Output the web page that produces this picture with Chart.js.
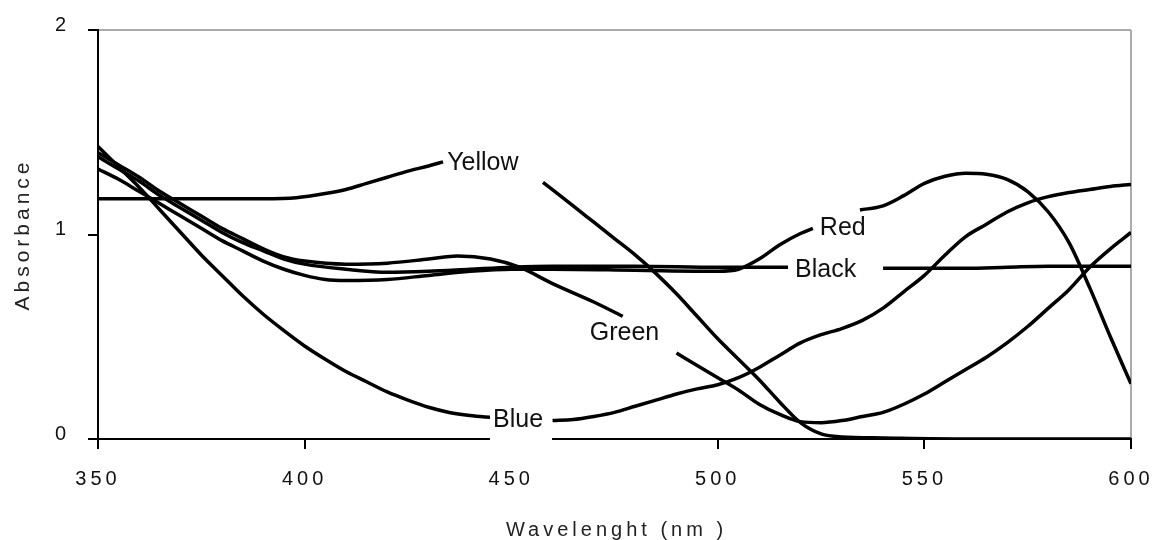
<!DOCTYPE html>
<html>
<head>
<meta charset="utf-8">
<script src="https://cdn.jsdelivr.net/npm/chart.js@4.4.1/dist/chart.umd.min.js"></script>
<style>
  html, body { margin: 0; padding: 0; background: #fff; }
  #wrap { width: 1152px; height: 540px; }
</style>
</head>
<body>
<div id="wrap"><canvas id="absChart" width="1152" height="540"></canvas></div>
<script>
// wavelength (nm) / absorbance per dye, null = gap where the label sits
const yellowNm  = [350, 360, 370, 380, 390, 398, 405, 410, 415, 420, 425, 430, 433.5, 445, 457.7, 465, 470, 475, 480, 485, 490, 495, 500, 505, 510, 515, 520, 525, 530, 540, 560, 580, 600];
const yellowAbs = [1.175, 1.175, 1.175, 1.175, 1.175, 1.18, 1.20, 1.22, 1.25, 1.28, 1.31, 1.335, 1.355, null, 1.255, 1.14, 1.06, 0.98, 0.90, 0.81, 0.71, 0.60, 0.49, 0.39, 0.29, 0.18, 0.08, 0.025, 0.01, 0.005, 0, 0, 0];

const greenNm  = [350, 355, 360, 365, 370, 375, 380, 385, 390, 395, 400, 410, 420, 430, 437, 445, 452, 460, 470, 477, 483, 490, 495, 500, 505, 510, 515, 520, 525, 530, 535, 540, 545, 550, 555, 560, 565, 570, 575, 580, 585, 590, 595, 600];
const greenAbs = [1.40, 1.34, 1.28, 1.21, 1.15, 1.09, 1.03, 0.98, 0.93, 0.89, 0.87, 0.855, 0.86, 0.88, 0.895, 0.88, 0.84, 0.76, 0.67, 0.60, null, 0.42, 0.36, 0.30, 0.24, 0.17, 0.12, 0.085, 0.08, 0.09, 0.11, 0.13, 0.17, 0.22, 0.28, 0.34, 0.40, 0.47, 0.55, 0.64, 0.73, 0.84, 0.93, 1.01];

const blueNm  = [350, 355, 360, 365, 370, 375, 380, 385, 390, 395, 400, 405, 410, 415, 420, 425, 430, 435, 440, 445.5, 452, 460, 465, 470, 475, 480, 485, 490, 495, 500, 505, 510, 515, 520, 525, 530, 535, 540, 545, 550, 555, 560, 565, 570, 575, 580, 585, 590, 595, 600];
const blueAbs = [1.43, 1.33, 1.23, 1.12, 1.01, 0.90, 0.80, 0.70, 0.61, 0.53, 0.455, 0.39, 0.33, 0.28, 0.23, 0.19, 0.155, 0.13, 0.115, 0.105, null, 0.09, 0.095, 0.11, 0.13, 0.16, 0.19, 0.22, 0.245, 0.265, 0.30, 0.35, 0.41, 0.47, 0.51, 0.54, 0.58, 0.64, 0.72, 0.80, 0.90, 0.99, 1.05, 1.11, 1.155, 1.185, 1.205, 1.22, 1.235, 1.245];

const redNm  = [350, 355, 360, 365, 370, 375, 380, 385, 390, 395, 400, 405, 410, 420, 430, 440, 450, 460, 480, 500, 505, 510, 515, 520, 523, 529, 534.4, 540, 545, 550, 555, 560, 565, 570, 575, 580, 585, 590, 595, 600];
const redAbs = [1.32, 1.27, 1.21, 1.15, 1.09, 1.03, 0.97, 0.92, 0.87, 0.83, 0.80, 0.78, 0.775, 0.78, 0.80, 0.82, 0.83, 0.83, 0.825, 0.82, 0.83, 0.88, 0.95, 1.005, 1.03, null, 1.12, 1.14, 1.19, 1.25, 1.285, 1.30, 1.295, 1.27, 1.21, 1.11, 0.96, 0.74, 0.50, 0.27];

const blackNm  = [350, 355, 360, 365, 370, 375, 380, 385, 390, 395, 400, 410, 420, 430, 440, 450, 460, 480, 500, 517, 528, 540, 560, 570, 580, 600];
const blackAbs = [1.38, 1.32, 1.26, 1.19, 1.13, 1.07, 1.01, 0.96, 0.92, 0.88, 0.855, 0.83, 0.815, 0.82, 0.83, 0.84, 0.845, 0.845, 0.84, 0.84, null, 0.835, 0.835, 0.84, 0.845, 0.845];

const seriesNames = ['Yellow', 'Green', 'Blue', 'Red', 'Black'];
const seriesNm  = [yellowNm, greenNm, blueNm, redNm, blackNm];
const seriesAbs = [yellowAbs, greenAbs, blueAbs, redAbs, blackAbs];

// where each name is written on the plot (left edge, middle)
const labelNm  = [434.5, 469, 445.6, 524.7, 518.7];
const labelAbs = [1.35, 0.52, 0.093, 1.03, 0.826];
// the Blue label box runs down over the x axis in the original
const labelMaskBottom = [null, null, -0.055, null, null];

const xTicks = [350, 400, 450, 500, 550, 600];
const yTicks = [0, 1, 2];
const xTitle = 'Wavelenght (nm )';
const yTitle = 'Absorbance';

const FONT = '"Liberation Sans", Arial, sans-serif';

const datasets = seriesNames.map((name, i) => ({
    label: name,
    data: seriesNm[i].map((x, j) => ({ x: x, y: seriesAbs[i][j] })),
    borderColor: '#000',
    borderWidth: 3.5,
    pointRadius: 0,
    fill: false,
    spanGaps: false,
    cubicInterpolationMode: 'monotone'
}));

const textPlugin = {
    id: 'textPlugin',
    beforeDraw(chart) {
        chart.ctx.letterSpacing = '4px';
    },
    beforeDatasetsDraw(chart) {
        chart.ctx.letterSpacing = '0px';
    },
    afterDraw(chart) {
        const ctx = chart.ctx;
        const xs = chart.scales.x, ys = chart.scales.y;
        const area = chart.chartArea;
        ctx.save();
        ctx.font = '25px ' + FONT;
        ctx.textBaseline = 'middle';
        ctx.textAlign = 'left';
        seriesNames.forEach((name, i) => {
            const px = xs.getPixelForValue(labelNm[i]);
            const py = ys.getPixelForValue(labelAbs[i]);
            const w = ctx.measureText(name).width;
            if (labelMaskBottom[i] !== null) {
                const bottom = ys.getPixelForValue(labelMaskBottom[i]);
                ctx.fillStyle = '#fff';
                ctx.fillRect(px - 3, py - 14, w + 12, bottom - (py - 14));
            }
            ctx.fillStyle = '#111';
            ctx.fillText(name, px, py);
        });

        // axis titles
        ctx.letterSpacing = '4px';
        ctx.font = '20px ' + FONT;
        ctx.fillStyle = '#222';
        ctx.textAlign = 'center';
        ctx.textBaseline = 'alphabetic';
        ctx.fillText(xTitle, (area.left + area.right) / 2 + 2, 536);
        ctx.font = '21px ' + FONT;
        ctx.translate(29, (area.top + area.bottom) / 2);
        ctx.rotate(-Math.PI / 2);
        ctx.fillText(yTitle, 0, 0);
        ctx.restore();
    }
};

const ctx = document.getElementById('absChart').getContext('2d');
const absChart = new Chart(ctx, {
    type: 'line',
    data: { datasets: datasets },
    plugins: [textPlugin],
    options: {
        responsive: false,
        animation: false,
        devicePixelRatio: 1,
        layout: { padding: { top: 30, right: 21, left: 0, bottom: 0 } },
        plugins: {
            legend: { display: false },
            tooltip: { enabled: false }
        },
        scales: {
            x: {
                type: 'linear',
                min: 350,
                max: 600,
                afterBuildTicks: s => { s.ticks = xTicks.map(v => ({ value: v })); },
                afterFit: s => {
                    s.height = 101;
                    s.paddingLeft = 0;
                    s.paddingRight = 0;
                },
                border: { color: '#000', width: 2 },
                grid: {
                    color: c => (c.tick && c.tick.value === 600) ? '#aaa' : 'rgba(0,0,0,0)',
                    lineWidth: 2,
                    tickColor: '#000',
                    tickLength: 10
                },
                ticks: {
                    color: '#111',
                    font: { family: FONT, size: 20 },
                    padding: 18,
                    maxRotation: 0,
                    autoSkip: false
                }
            },
            y: {
                min: 0,
                max: 2,
                afterBuildTicks: s => { s.ticks = yTicks.map(v => ({ value: v })); },
                afterFit: s => {
                    s.width = 98;
                    s.paddingTop = 0;
                    s.paddingBottom = 0;
                },
                border: { color: '#000', width: 2 },
                grid: {
                    color: c => (c.tick && c.tick.value === 2) ? '#aaa' : 'rgba(0,0,0,0)',
                    lineWidth: 2,
                    tickColor: '#000',
                    tickLength: 10
                },
                ticks: {
                    color: '#111',
                    font: { family: FONT, size: 20 },
                    padding: 18,
                    labelOffset: -5
                }
            }
        }
    }
});
</script>
</body>
</html>
